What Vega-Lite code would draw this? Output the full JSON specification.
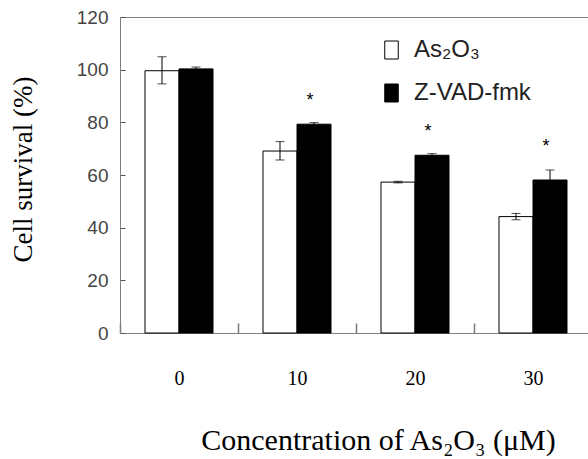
{
  "$schema": "https://vega.github.io/schema/vega-lite/v6.json",
  "width": 468,
  "height": 316,
  "autosize": {"type": "none"},
  "padding": {"left": 120, "top": 17, "right": 0, "bottom": 126},
  "background": "white",
  "config": {
    "view": {"stroke": null},
    "axis": {"domainColor": "#808080", "tickColor": "#666", "grid": false}
  },
  "data": {
    "values": [
      {"conc": "0", "trt": "As₂O₃", "mean": 99.6, "lo": 94.6, "hi": 104.9, "star": null},
      {"conc": "0", "trt": "Z-VAD-fmk", "mean": 100.3, "lo": 99.6, "hi": 101.0, "star": null},
      {"conc": "10", "trt": "As₂O₃", "mean": 69.1, "lo": 65.7, "hi": 72.7, "star": null},
      {"conc": "10", "trt": "Z-VAD-fmk", "mean": 79.3, "lo": 78.7, "hi": 79.9, "star": 89.6},
      {"conc": "20", "trt": "As₂O₃", "mean": 57.3, "lo": 57.0, "hi": 57.6, "star": null},
      {"conc": "20", "trt": "Z-VAD-fmk", "mean": 67.5, "lo": 66.9, "hi": 68.1, "star": 78.0},
      {"conc": "30", "trt": "As₂O₃", "mean": 44.2, "lo": 43.0, "hi": 45.4, "star": null},
      {"conc": "30", "trt": "Z-VAD-fmk", "mean": 58.1, "lo": 54.3, "hi": 61.9, "star": 72.3}
    ]
  },
  "resolve": {"axis": {"x": "independent"}},
  "layer": [
    {
      "mark": {"type": "bar", "stroke": "black", "strokeWidth": 1},
      "encoding": {
        "x": {
          "field": "conc", "type": "ordinal", "sort": ["0", "10", "20", "30"],
          "scale": {"range": [0, 472], "paddingInner": 0, "paddingOuter": 0},
          "axis": {
            "orient": "bottom",
            "title": "Concentration of As₂O₃ (μM)",
            "titleFont": "Liberation Serif", "titleFontSize": 30, "titleFontWeight": "normal", "titleColor": "black",
            "titleX": 258, "titleY": 107, "titleBaseline": "middle", "titleAlign": "center",
            "labelAngle": 0, "labelFont": "Liberation Serif", "labelFontSize": 20, "labelColor": "black",
            "labelPadding": 45,
            "tickBand": "extent", "tickSize": -10, "tickWidth": 1.5, "tickColor": "#777"
          }
        },
        "xOffset": {
          "field": "trt", "type": "nominal", "sort": ["As₂O₃", "Z-VAD-fmk"],
          "scale": {"paddingInner": 0, "paddingOuter": 0.735}
        },
        "y": {
          "field": "mean", "type": "quantitative", "title": "Cell survival (%)",
          "scale": {"domain": [0, 120], "nice": false},
          "axis": {
            "titleFont": "Liberation Serif", "titleFontSize": 27, "titleFontWeight": "normal", "titleColor": "black",
            "titleX": -97, "titleY": 152, "titleBaseline": "middle", "titleAlign": "center", "titleAngle": -90,
            "values": [0, 20, 40, 60, 80, 100, 120],
            "labelFont": "Liberation Sans", "labelFontSize": 19, "labelColor": "#444", "labelPadding": 17,
            "tickSize": -5, "tickColor": "#555"
          }
        },
        "color": {
          "field": "trt", "type": "nominal",
          "scale": {"domain": ["As₂O₃", "Z-VAD-fmk"], "range": ["white", "black"]},
          "legend": {
            "orient": "none", "legendX": 259.5, "legendY": 21, "title": null, "padding": 0,
            "symbolType": "M-0.75,-1H0.75V1H-0.75Z", "symbolSize": 324,
            "symbolStrokeColor": "black", "symbolStrokeWidth": 1,
            "labelFont": "Liberation Sans", "labelFontSize": 24, "labelColor": "#222",
            "labelOffset": 10.5, "rowPadding": 19
          }
        }
      }
    },
    {
      "mark": {"type": "rule", "color": "black", "strokeWidth": 1},
      "encoding": {
        "x": {
          "field": "conc", "type": "ordinal", "sort": ["0", "10", "20", "30"],
          "axis": {"orient": "top", "labels": false, "ticks": false, "title": null, "domain": true, "domainColor": "#808080"}
        },
        "xOffset": {"field": "trt", "type": "nominal", "sort": ["As₂O₃", "Z-VAD-fmk"]},
        "y": {"field": "lo", "type": "quantitative", "title": "Cell survival (%)"},
        "y2": {"field": "hi"}
      }
    },
    {
      "mark": {"type": "tick", "color": "black", "thickness": 1, "size": 9},
      "encoding": {
        "x": {"field": "conc", "type": "ordinal", "sort": ["0", "10", "20", "30"], "axis": null},
        "xOffset": {"field": "trt", "type": "nominal", "sort": ["As₂O₃", "Z-VAD-fmk"]},
        "y": {"field": "lo", "type": "quantitative", "title": "Cell survival (%)"}
      }
    },
    {
      "mark": {"type": "tick", "color": "black", "thickness": 1, "size": 9},
      "encoding": {
        "x": {"field": "conc", "type": "ordinal", "sort": ["0", "10", "20", "30"], "axis": null},
        "xOffset": {"field": "trt", "type": "nominal", "sort": ["As₂O₃", "Z-VAD-fmk"]},
        "y": {"field": "hi", "type": "quantitative", "title": "Cell survival (%)"}
      }
    },
    {
      "transform": [{"filter": "datum.star != null"}],
      "mark": {"type": "text", "text": "*", "font": "Liberation Sans", "fontSize": 18, "color": "black", "baseline": "middle", "dx": -4, "dy": 4},
      "encoding": {
        "x": {"field": "conc", "type": "ordinal", "sort": ["0", "10", "20", "30"], "axis": null},
        "xOffset": {"field": "trt", "type": "nominal", "sort": ["As₂O₃", "Z-VAD-fmk"]},
        "y": {"field": "star", "type": "quantitative", "title": "Cell survival (%)"}
      }
    }
  ]
}
